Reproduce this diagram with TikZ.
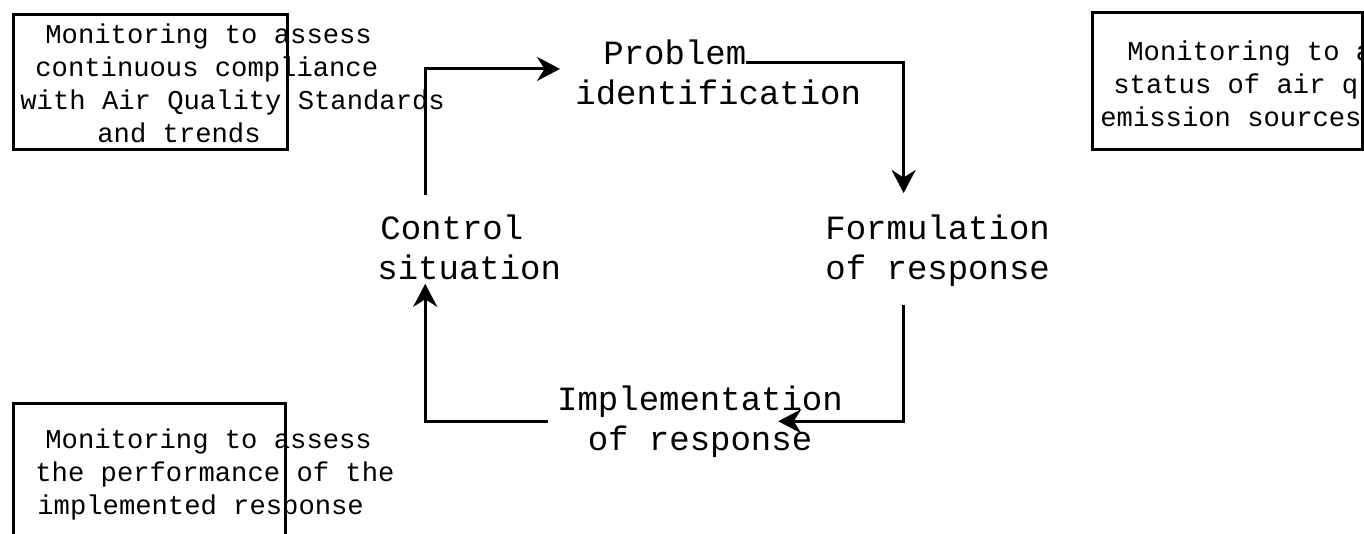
\documentclass[tikz,border=0pt]{standalone}
\usepackage{fontspec}
\setmonofont{Liberation Mono}
\usetikzlibrary{arrows.meta}

\begin{document}
\begin{tikzpicture}[
    x=0.5pt, y=-0.5pt,
    stage/.style={inner sep=0pt, align=left, font=\ttfamily\fontsize{17}{20}\selectfont},
    remark/.style={inner sep=0pt, align=left, font=\ttfamily\fontsize{13.6}{16.5}\selectfont},
    panel/.style={draw, line width=1.5pt},
    arrow/.style={-{Stealth[length=11.5pt,width=12pt]}, line width=1.5pt}
]
\useasboundingbox (0,0) rectangle (1364,534);

% Management cycle
\node[stage, anchor=north west] (problem) at (575,39) {\hspace*{14pt}Problem\\identification};
\node[stage, anchor=north west] (formulation) at (825,214) {Formulation\\of response};
\node[stage, anchor=north, align=center] (implementation) at (700,385) {Implementation\\of response};
\node[stage, anchor=north west] (control) at (377,214) {\hspace*{1.5pt}Control\\situation};

\draw[arrow] ([shift={(-44,-19)}]control.north) |- ([shift={(-15,-3)}]problem.west);
\draw[arrow] ([shift={(171,24)}]problem.north west) -| ([shift={(-34,-21)}]formulation.north);
\draw[arrow] ([shift={(-34,19)}]formulation.south) |- ([shift={(-65,0)}]implementation.east);
\draw[arrow] ([shift={(-9,0)}]implementation.west) -| ([shift={(-44,4)}]control.south);

% Monitoring boxes
\draw[panel] (13,15) rectangle (287,150);
\draw[panel] (1092,13) rectangle (1362,150);
\draw[panel] (13,403) rectangle (285,545);

\node[remark, anchor=north west] (compliance) at (20,23) {\hspace*{12.5pt}Monitoring to assess\\\hspace*{7.5pt}continuous compliance\\with Air Quality Standards\\\hspace*{38.5pt}and trends};
\node[remark, anchor=north west] (status) at (1100,40) {\hspace*{13.5pt}Monitoring to a\\\hspace*{6.5pt}status of air q\\emission sources};
\node[remark, anchor=north west] (performance) at (35,428) {\hspace*{5pt}Monitoring to assess\\the performance of the\\\hspace*{1pt}implemented response};

\end{tikzpicture}
\end{document}
